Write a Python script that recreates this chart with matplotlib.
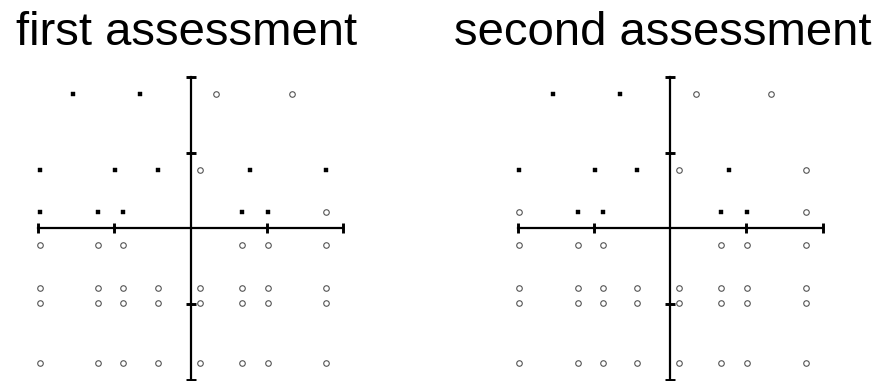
import matplotlib
matplotlib.use("Agg")
import matplotlib.pyplot as plt

plt.rcParams["font.family"] = ["Liberation Sans", "DejaVu Sans"]

# point positions (shared by both assessments)
xs = [-1.54, -0.66, 0.34, 1.33,
      -1.98, -0.99, -0.43, 0.12, 0.78, 1.78,
      -1.98, -1.21, -0.88, 0.67, 1.01, 1.78,
      -1.98, -1.21, -0.88, 0.67, 1.01, 1.78,
      -1.98, -1.21, -0.88, -0.43, 0.12, 0.67, 1.01, 1.78,
      -1.98, -1.21, -0.88, -0.43, 0.12, 0.67, 1.01, 1.78,
      -1.98, -1.21, -0.88, -0.43, 0.12, 0.67, 1.01, 1.78]
ys = [1.77] * 4 + [0.77] * 6 + [0.22] * 6 + [-0.22] * 6 + [-0.78] * 8 + [-0.99] * 8 + [-1.77] * 8

# 1 = filled square, 0 = open circle
first_filled = [1, 1, 0, 0,
                1, 1, 1, 0, 1, 1,
                1, 1, 1, 1, 1, 0] + [0] * 30
second_filled = [1, 1, 0, 0,
                 1, 1, 1, 0, 1, 0,
                 0, 1, 1, 1, 1, 0] + [0] * 30

titles = ["first assessment", "second assessment"]
title_x = [187, 663]

W, H = 880, 381
fig = plt.figure(figsize=(W / 100, H / 100), dpi=100)

ppu_x, ppu_y = 76.25, 75.75
centers = [190.5, 670]
cy = H - 228.5
lim = 2.3

for k, (cx, filled) in enumerate(zip(centers, [first_filled, second_filled])):
    left = cx - lim * ppu_x
    bottom = cy - lim * ppu_y
    ax = fig.add_axes([left / W, bottom / H, 2 * lim * ppu_x / W, 2 * lim * ppu_y / H])
    ax.set_xlim(-lim, lim)
    ax.set_ylim(-lim, lim)
    ax.patch.set_visible(False)
    for s in ["top", "right"]:
        ax.spines[s].set_visible(False)
    for s in ["left", "bottom"]:
        ax.spines[s].set_position("zero")
        ax.spines[s].set_bounds(-2, 2)
        ax.spines[s].set_linewidth(1.6)
        ax.spines[s].set_clip_on(False)
    ax.set_xticks([-2, -1, 1, 2])
    ax.set_yticks([-2, -1, 1, 2])
    ax.set_xticklabels([])
    ax.set_yticklabels([])
    ax.tick_params(direction="inout", length=7.5, width=2.1, color="black")

    fx = [x for x, f in zip(xs, filled) if f]
    fy = [y for y, f in zip(ys, filled) if f]
    ox = [x for x, f in zip(xs, filled) if not f]
    oy = [y for y, f in zip(ys, filled) if not f]
    ax.plot(fx, fy, ls="none", marker="s", ms=3.3, mfc="black", mec="black", mew=0.3, clip_on=False)
    ax.plot(ox, oy, ls="none", marker="o", ms=4.0, mfc="white", mec="#555555", mew=0.8, clip_on=False)

    fig.text(title_x[k] / W, (H - 45) / H, titles[k], ha="center", va="baseline", fontsize=34)

fig.savefig("out.png", dpi=100, facecolor="white")
